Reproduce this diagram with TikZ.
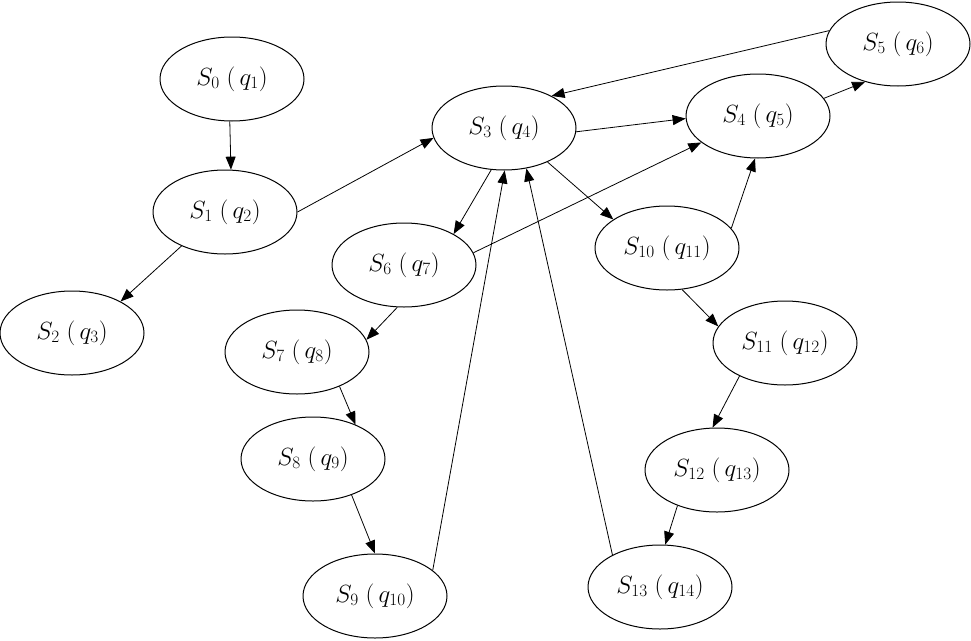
\documentclass[tikz,border=0pt]{standalone}
\usetikzlibrary{arrows.meta,shapes.geometric}
\begin{document}
\begin{tikzpicture}[x=1pt,y=-1pt,
  st/.style={ellipse,draw,line width=1pt,minimum width=144pt,minimum height=84pt,inner sep=0pt,font=\fontsize{25}{29}\selectfont},
  ed/.style={draw,line width=0.8pt,-{Triangle[length=13pt,width=10pt]}}]
\newcommand{\lbl}[2]{$S_{#1}\;(\,q_{#2})$}
\useasboundingbox (0,0) rectangle (971,640);
\node[st] (s0) at (232,79) {\lbl{0}{1}};
\node[st] (s1) at (225,212) {\lbl{1}{2}};
\node[st] (s2) at (72,333) {\lbl{2}{3}};
\node[st] (s3) at (504,128) {\lbl{3}{4}};
\node[st] (s4) at (758,116) {\lbl{4}{5}};
\node[st] (s5) at (898,44) {\lbl{5}{6}};
\node[st] (s6) at (404,265) {\lbl{6}{7}};
\node[st] (s7) at (297,352) {\lbl{7}{8}};
\node[st] (s8) at (313,459) {\lbl{8}{9}};
\node[st] (s9) at (375,596) {\lbl{9}{10}};
\node[st] (s10) at (667,248) {\lbl{10}{11}};
\node[st] (s11) at (785,343) {\lbl{11}{12}};
\node[st] (s12) at (717,470) {\lbl{12}{13}};
\node[st] (s13) at (660,587) {\lbl{13}{14}};
\draw[ed] (s0.-93) -- (s1.82);
\draw[ed] (s1.0) -- (s3.188);
\draw[ed] (s1.-142) -- (s2.33);
\draw[ed] (s5.169) -- (s3.34);
\draw[ed] (s3.-3) -- (s4.182);
\draw[ed] (s4.15) -- (s5.-131);
\draw[ed] (s3.-107) -- (s6.32);
\draw[ed] (s3.-38) -- (s10.152);
\draw[ed] (s6.10) -- (s4.205);
\draw[ed] (s6.-99) -- (s7.10);
\draw[ed] (s7.-39) -- (s8.39);
\draw[ed] (s8.-43) -- (s9.90);
\draw[ed] (s9.24) -- (s3.-89);
\draw[ed] (s13.146) -- (s3.-61);
\draw[ed] (s10.17) -- (s4.-94);
\draw[ed] (s10.-70) -- (s11.166);
\draw[ed] (s11.-144) -- (s12.96);
\draw[ed] (s12.-138) -- (s13.83);
\end{tikzpicture}
\end{document}
